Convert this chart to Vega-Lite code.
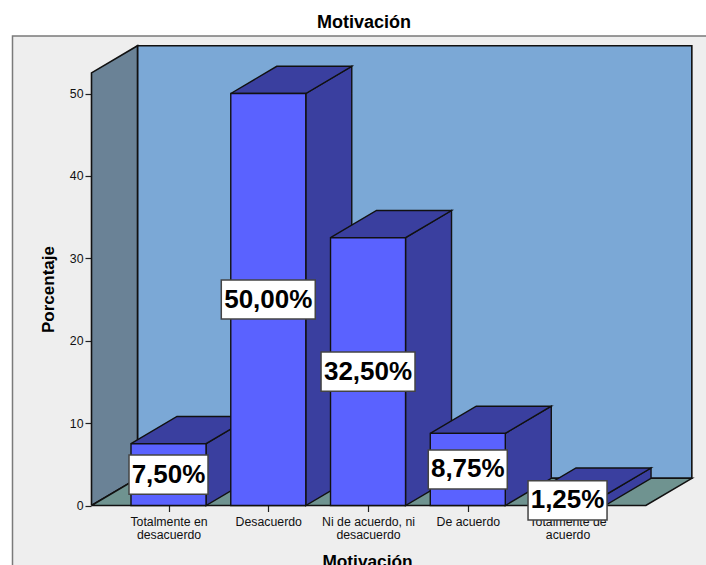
{
  "$schema": "https://vega.github.io/schema/vega-lite/v6.json",
  "autosize": "none",
  "width": 694,
  "height": 529,
  "padding": {"left": 12, "top": 36, "right": 0, "bottom": 0},
  "background": "#ffffff",
  "view": {"fill": "#eeeeee", "stroke": null},
  "title": {"text": "Motivación", "font": "Liberation Sans", "fontSize": 18, "fontWeight": "bold", "color": "#000000", "anchor": "middle", "dx": 5, "offset": 1},
  "datasets": {
    "barras": [
      {"pos": 0, "categoria": "Totalmente en desacuerdo", "valor": 7.5, "etiqueta": "7,50%"},
      {"pos": 1, "categoria": "Desacuerdo", "valor": 50, "etiqueta": "50,00%"},
      {"pos": 2, "categoria": "Ni de acuerdo, ni desacuerdo", "valor": 32.5, "etiqueta": "32,50%"},
      {"pos": 3, "categoria": "De acuerdo", "valor": 8.75, "etiqueta": "8,75%"},
      {"pos": 4, "categoria": "Totalmente de acuerdo", "valor": 1.25, "etiqueta": "1,25%"}
    ],
    "camara": [
      {"parte": "fondo", "orden": 0, "x": -0.311, "y": 3.3},
      {"parte": "fondo", "orden": 1, "x": 5.246, "y": 3.3},
      {"parte": "fondo", "orden": 2, "x": 5.246, "y": 55.8},
      {"parte": "fondo", "orden": 3, "x": -0.311, "y": 55.8},
      {"parte": "fondo", "orden": 4, "x": -0.311, "y": 3.3},
      {"parte": "pared", "orden": 0, "x": -0.772, "y": 0},
      {"parte": "pared", "orden": 1, "x": -0.311, "y": 3.3},
      {"parte": "pared", "orden": 2, "x": -0.311, "y": 55.8},
      {"parte": "pared", "orden": 3, "x": -0.772, "y": 52.5},
      {"parte": "pared", "orden": 4, "x": -0.772, "y": 0},
      {"parte": "suelo", "orden": 0, "x": -0.772, "y": 0},
      {"parte": "suelo", "orden": 1, "x": 4.785, "y": 0},
      {"parte": "suelo", "orden": 2, "x": 5.246, "y": 3.3},
      {"parte": "suelo", "orden": 3, "x": -0.311, "y": 3.3},
      {"parte": "suelo", "orden": 4, "x": -0.772, "y": 0}
    ],
    "marco": [
      {"orden": 0, "x": -1.564, "y": -7.22},
      {"orden": 1, "x": -1.564, "y": 56.98},
      {"orden": 2, "x": 5.393, "y": 56.98}
    ]
  },
  "encoding": {
    "x": {"type": "quantitative", "scale": {"domain": [-1.569, 5.388], "nice": false, "zero": false}},
    "y": {"type": "quantitative", "scale": {"domain": [-7.22, 56.98], "nice": false, "zero": false}}
  },
  "layer": [
    {
      "data": {"name": "marco"},
      "mark": {"type": "line", "stroke": "#7a7a7a", "strokeWidth": 1.5, "clip": false},
      "encoding": {
        "x": {"field": "x", "type": "quantitative", "axis": {
          "orient": "bottom", "offset": -59.5, "domain": false, "grid": false,
          "values": [0, 1, 2, 3, 4], "tickSize": 6, "tickColor": "#222222", "tickWidth": 1.2,
          "labelExpr": "split(['Totalmente en|desacuerdo','Desacuerdo','Ni de acuerdo, ni|desacuerdo','De acuerdo','Totalmente de|acuerdo'][datum.value],'|')",
          "labelFont": "Liberation Sans", "labelFontSize": 12.3, "labelColor": "#111111", "labelPadding": 4, "labelLineHeight": 13, "labelOverlap": false, "labelFlush": false, "labelBound": false,
          "title": "Motivación", "titleFont": "Liberation Sans", "titleFontSize": 17.3, "titleFontWeight": "bold", "titleColor": "#000000", "titlePadding": 12, "titleX": 355
        }},
        "y": {"field": "y", "type": "quantitative", "axis": {
          "orient": "left", "offset": -79, "domain": false, "grid": false,
          "values": [0, 10, 20, 30, 40, 50], "tickSize": 6, "tickColor": "#222222", "tickWidth": 1.2,
          "labelFont": "Liberation Sans", "labelFontSize": 12.3, "labelColor": "#111111", "labelPadding": 2,
          "title": "Porcentaje", "titleFont": "Liberation Sans", "titleFontSize": 17, "titleFontWeight": "bold", "titleColor": "#000000", "titlePadding": 12, "titleY": 253
        }},
        "order": {"field": "orden", "type": "quantitative"}
      }
    },
    {
      "data": {"name": "camara"},
      "mark": {"type": "line", "stroke": "#111111", "strokeWidth": 1.6, "strokeJoin": "miter"},
      "encoding": {
        "x": {"field": "x", "type": "quantitative"},
        "y": {"field": "y", "type": "quantitative"},
        "detail": {"field": "parte"},
        "order": {"field": "orden", "type": "quantitative"},
        "fill": {"field": "parte", "type": "nominal", "legend": null, "scale": {"domain": ["fondo", "pared", "suelo"], "range": ["#7ba8d6", "#6a8296", "#6f9390"]}}
      }
    },
    {
      "data": {"name": "barras"},
      "transform": [
        {"calculate": "[0,0,1,1,0]", "as": "sobre"},
        {"calculate": "[1,0,0,1,1]", "as": "alto"},
        {"calculate": "[0,1,2,3,4]", "as": "orden"},
        {"flatten": ["sobre", "alto", "orden"]},
        {"calculate": "datum.pos + 0.376 + 0.461 * datum.sobre", "as": "px"},
        {"calculate": "datum.valor * datum.alto + 3.3 * datum.sobre", "as": "py"}
      ],
      "mark": {"type": "line", "fill": "#3a3f9f", "stroke": "#111111", "strokeWidth": 1.4, "strokeJoin": "miter"},
      "encoding": {
        "x": {"field": "px", "type": "quantitative"},
        "y": {"field": "py", "type": "quantitative"},
        "detail": {"field": "pos"},
        "order": {"field": "orden", "type": "quantitative"}
      }
    },
    {
      "data": {"name": "barras"},
      "transform": [
        {"calculate": "[0,1,1,0,0]", "as": "lado"},
        {"calculate": "[0,0,1,1,0]", "as": "sobre"},
        {"calculate": "[0,1,2,3,4]", "as": "orden"},
        {"flatten": ["lado", "sobre", "orden"]},
        {"calculate": "datum.pos - 0.376 + 0.752 * datum.lado + 0.461 * datum.sobre", "as": "px"},
        {"calculate": "datum.valor + 3.3 * datum.sobre", "as": "py"}
      ],
      "mark": {"type": "line", "fill": "#3a3f9f", "stroke": "#111111", "strokeWidth": 1.4, "strokeJoin": "miter"},
      "encoding": {
        "x": {"field": "px", "type": "quantitative"},
        "y": {"field": "py", "type": "quantitative"},
        "detail": {"field": "pos"},
        "order": {"field": "orden", "type": "quantitative"}
      }
    },
    {
      "data": {"name": "barras"},
      "transform": [
        {"calculate": "datum.pos - 0.376", "as": "izq"},
        {"calculate": "datum.pos + 0.376", "as": "der"},
        {"calculate": "0", "as": "base"}
      ],
      "mark": {"type": "rect", "fill": "#5a62ff", "stroke": "#111111", "strokeWidth": 1.4},
      "encoding": {
        "x": {"field": "izq", "type": "quantitative"},
        "x2": {"field": "der"},
        "y": {"field": "valor", "type": "quantitative"},
        "y2": {"field": "base"}
      }
    },
    {
      "data": {"name": "barras"},
      "transform": [
        {"calculate": "length(datum.etiqueta) == 6 ? 0.471 : 0.396", "as": "medio"},
        {"calculate": "datum.pos - datum.medio", "as": "izq"},
        {"calculate": "datum.pos + datum.medio", "as": "der"},
        {"calculate": "datum.valor / 2 - 2.37", "as": "abajo"},
        {"calculate": "datum.valor / 2 + 2.37", "as": "arriba"}
      ],
      "mark": {"type": "rect", "fill": "#ffffff", "stroke": "#444444", "strokeWidth": 1.5},
      "encoding": {
        "x": {"field": "izq", "type": "quantitative"},
        "x2": {"field": "der"},
        "y": {"field": "abajo", "type": "quantitative"},
        "y2": {"field": "arriba"}
      }
    },
    {
      "data": {"name": "barras"},
      "transform": [{"calculate": "datum.valor / 2", "as": "medio"}],
      "mark": {"type": "text", "font": "Liberation Sans", "fontSize": 26, "fontWeight": "bold", "color": "#000000", "align": "center", "baseline": "middle"},
      "encoding": {
        "x": {"field": "pos", "type": "quantitative"},
        "y": {"field": "medio", "type": "quantitative"},
        "text": {"field": "etiqueta"}
      }
    }
  ]
}
